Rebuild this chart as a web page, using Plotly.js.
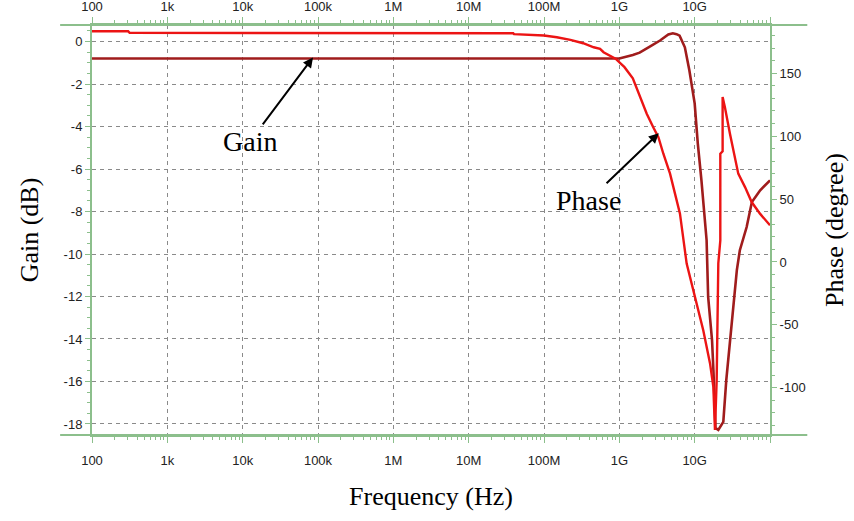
<!DOCTYPE html>
<html>
<head>
<meta charset="utf-8">
<script src="https://cdn.plot.ly/plotly-3.0.1.min.js"></script>
<style>html,body{margin:0;padding:0;background:#fff;}#chart{width:854px;height:521px;}</style>
</head>
<body>
<div id="chart"></div>
<script>
// ---- data ----
const tickFreqs = [1e2, 1e3, 1e4, 1e5, 1e6, 1e7, 1e8, 1e9, 1e10, 1e11];
const tickLabels = ['100', '1k', '10k', '100k', '1M', '10M', '100M', '1G', '10G', ''];
const gainTicks = [0, -2, -4, -6, -8, -10, -12, -14, -16, -18];
const phaseTicks = [150, 100, 50, 0, -50, -100];

const gainFreq = [100, 1e9, 1.51e9, 1.86e9, 2.57e9, 3.47e9, 4.47e9, 5.13e9, 5.75e9, 6.31e9, 7.41e9, 8.51e9,
  1.0e10, 1.10e10, 1.23e10, 1.35e10, 1.44e10, 1.51e10, 1.70e10, 1.78e10, 1.82e10, 1.89e10, 2.06e10, 2.40e10,
  2.63e10, 2.95e10, 3.24e10, 3.63e10, 3.98e10, 4.90e10, 5.75e10, 7.41e10, 1e11];
const gainDb = [-0.8, -0.8, -0.63, -0.52, -0.23, 0.05, 0.33, 0.39, 0.35, 0.28, -0.27, -1.36,
  -2.91, -4.79, -6.53, -8.41, -9.35, -12.02, -14.05, -15.6, -17.0, -18.19, -18.28, -17.9,
  -15.93, -14.05, -12.49, -10.76, -9.82, -8.73, -7.55, -7.0, -6.53];

const phaseFreq = [100, 302, 316, 3.9e7, 4.0e7, 1.0e8, 1.48e8, 2.24e8, 3.31e8, 4.57e8, 5.55e8, 6.17e8,
  8.9e8, 1.17e9, 1.51e9, 1.88e9, 2.31e9, 2.82e9, 3.30e9, 3.84e9, 4.71e9, 5.48e9, 6.38e9, 7.83e9,
  1.01e10, 1.30e10, 1.60e10, 1.77e10, 1.86e10, 1.96e10, 2.06e10, 2.19e10, 2.19e10, 2.35e10, 2.35e10,
  2.52e10, 2.94e10, 3.43e10, 3.79e10, 4.66e10, 5.71e10, 7.36e10, 1e11];
const phaseDeg = [183.3, 183.3, 182.1, 181.7, 181.0, 179.9, 178.6, 176.5, 173.8, 170.6, 169.4, 166.7,
  161.5, 154.8, 146.0, 131.0, 117.8, 107.1, 99.2, 86.0, 70.2, 54.3, 38.4, -1.3,
  -27.8, -54.2, -80.6, -99.2, -133.5, -93.9, -1.0, 17.0, 86.0, 88.0, 131.0,
  123.0, 101.9, 83.3, 70.2, 59.5, 47.6, 38.4, 29.1];

// ---- styling ----
const axisGreen = '#8cbf8c';
const gridGray = '#8a8a8a';
const tickFont = {family: 'Liberation Sans, Arial, sans-serif', size: 13, color: '#222'};
const titleFont = {family: 'Liberation Serif, Times New Roman, serif', size: 26, color: '#000'};
const noteFont = {family: 'Liberation Serif, Times New Roman, serif', size: 28, color: '#000'};

const minorX = [];
for (let d = 2; d < 11; d++) { for (let k = 2; k <= 9; k++) { minorX.push(k * Math.pow(10, d)); } }
const hyphen = v => String(v).replace('\u2212', '-');

const traces = [
  {x: gainFreq, y: gainDb, type: 'scatter', mode: 'lines', name: 'Gain',
   line: {color: '#a01c1c', width: 2.6}, xaxis: 'x', yaxis: 'y', hoverinfo: 'skip'},
  {x: phaseFreq, y: phaseDeg, type: 'scatter', mode: 'lines', name: 'Phase',
   line: {color: '#ec1414', width: 2.4}, xaxis: 'x2', yaxis: 'y2', hoverinfo: 'skip'}
];

const xCommon = {
  type: 'log', range: [2, 11], tickmode: 'array', tickvals: tickFreqs, ticktext: tickLabels,
  ticks: 'outside', ticklen: 6, tickwidth: 1, tickcolor: axisGreen,
  showline: true, linecolor: axisGreen, linewidth: 2, zeroline: false,
  tickfont: tickFont,
  minor: {tickmode: 'array', tickvals: minorX, ticks: 'outside', ticklen: 3, tickcolor: axisGreen, tickwidth: 1, showgrid: false}
};

const layout = {
  width: 854, height: 521,
  margin: {l: 92, r: 84, t: 25, b: 86},
  paper_bgcolor: '#fff', plot_bgcolor: '#fff',
  showlegend: false,
  xaxis: Object.assign({}, xCommon, {
    side: 'bottom', anchor: 'y',
    showgrid: true, gridcolor: gridGray, gridwidth: 1, griddash: '4px,4px',
    ticklabelstandoff: 6,
    title: {text: 'Frequency (Hz)', font: titleFont, standoff: 20}
  }),
  xaxis2: Object.assign({}, xCommon, {
    side: 'top', overlaying: 'x', anchor: 'y2', showgrid: false, ticklabelstandoff: 1
  }),
  yaxis: {
    range: [-18.52, 0.78], tickmode: 'array', tickvals: gainTicks, ticktext: gainTicks.map(hyphen), side: 'left',
    ticks: 'outside', ticklen: 5, tickwidth: 1, tickcolor: axisGreen,
    showline: true, linecolor: axisGreen, linewidth: 2, zeroline: false,
    showgrid: true, gridcolor: gridGray, gridwidth: 1, griddash: '4px,4px',
    tickfont: tickFont,
    minor: {tickmode: 'linear', tick0: 0, dtick: 0.5, ticks: 'outside', ticklen: 3, tickcolor: axisGreen, tickwidth: 1, showgrid: false},
    title: {text: 'Gain (dB)', font: titleFont, standoff: 18}
  },
  yaxis2: {
    range: [-137.5, 188.3], tickmode: 'array', tickvals: phaseTicks, ticktext: phaseTicks.map(hyphen),
    side: 'right', overlaying: 'y', anchor: 'x2',
    ticks: 'outside', ticklen: 5, tickwidth: 1, tickcolor: axisGreen,
    showline: true, linecolor: axisGreen, linewidth: 2, zeroline: false, showgrid: false,
    tickfont: tickFont,
    minor: {tickmode: 'linear', tick0: 0, dtick: 10, ticks: 'outside', ticklen: 3, tickcolor: axisGreen, tickwidth: 1, showgrid: false},
    title: {text: 'Phase (degree)', font: titleFont, standoff: 20}
  },
  shapes: [
    {type: 'line', xref: 'paper', yref: 'paper', x0: -0.047, x1: 1.055, y0: 1, y1: 1, line: {color: axisGreen, width: 2}, layer: 'above'},
    {type: 'line', xref: 'paper', yref: 'paper', x0: -0.047, x1: 1.055, y0: 0, y1: 0, line: {color: axisGreen, width: 2}, layer: 'above'}
  ],
  annotations: [
    {xref: 'paper', yref: 'paper', x: 0.326, y: 0.921, text: 'Gain', showarrow: true,
     ax: -63, ay: 84, arrowhead: 2, arrowsize: 1, arrowwidth: 2, arrowcolor: '#000', font: noteFont},
    {xref: 'paper', yref: 'paper', x: 0.836, y: 0.736, text: 'Phase', showarrow: true,
     ax: -70, ay: 67, arrowhead: 2, arrowsize: 1, arrowwidth: 2, arrowcolor: '#000', font: noteFont}
  ]
};

Plotly.newPlot('chart', traces, layout, {displayModeBar: false, staticPlot: true});
</script>
</body>
</html>
